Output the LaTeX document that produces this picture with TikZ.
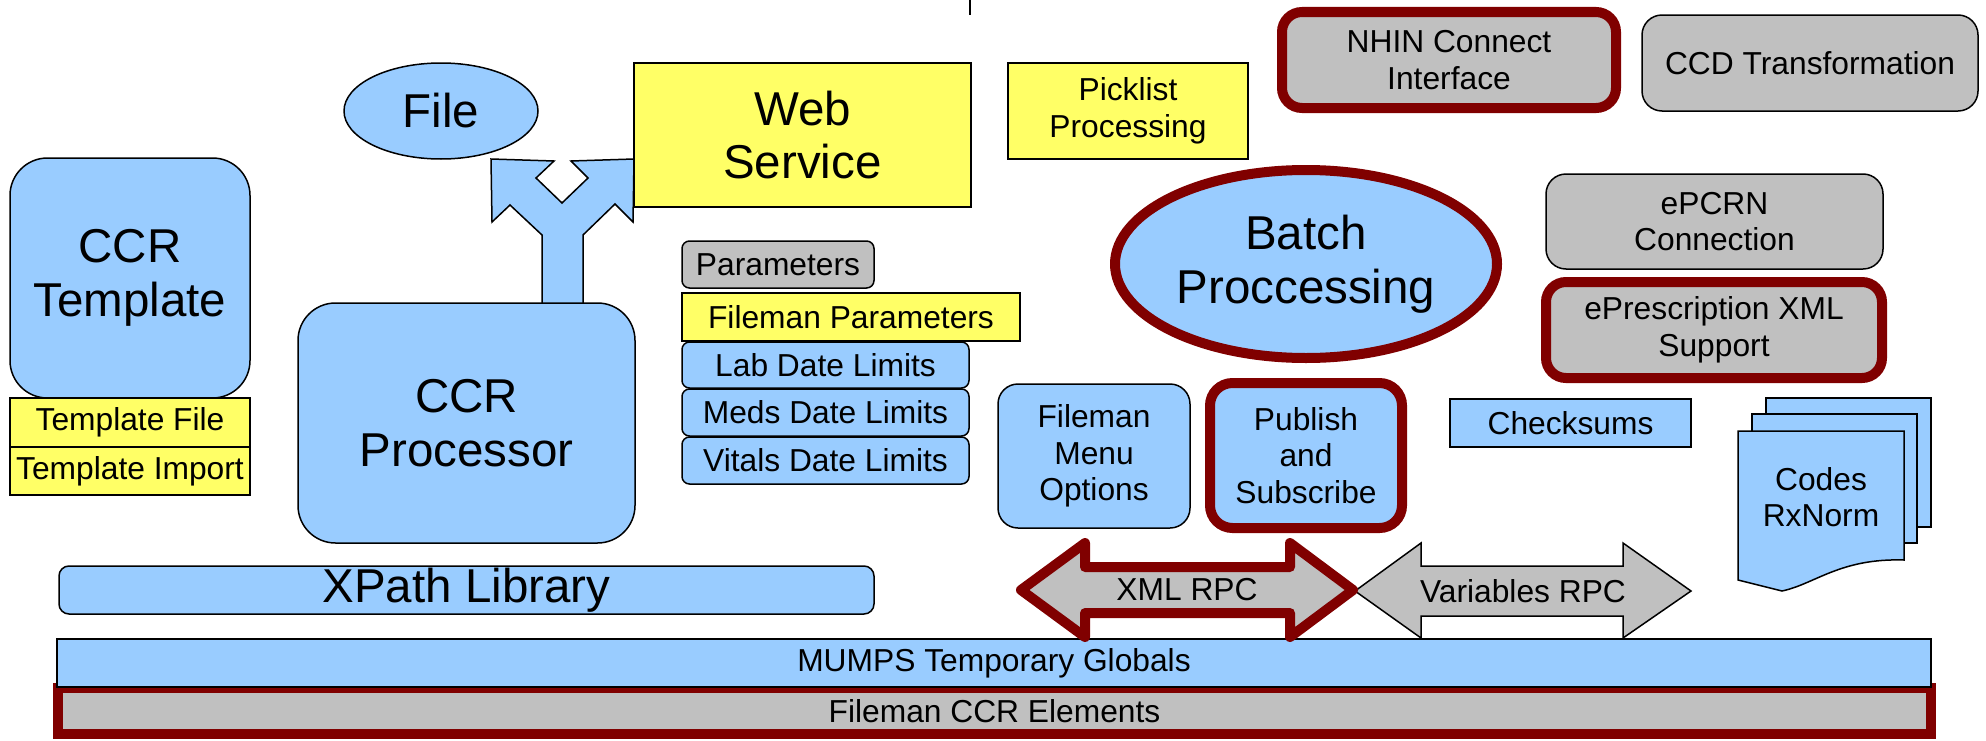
\documentclass[tikz,border=0pt]{standalone}
\usepackage{fontspec}
\setmainfont{Liberation Sans}
\usetikzlibrary{fit,shapes.geometric}
\definecolor{cBlue}{HTML}{99CCFF}
\definecolor{cYellow}{HTML}{FFFF66}
\definecolor{cGray}{HTML}{C0C0C0}
\definecolor{cRed}{HTML}{800000}
\newcommand\fsmall{\fontsize{12.7}{14.6}\selectfont}
\newcommand\fbig{\fontsize{19}{21.5}\selectfont}
\begin{document}
\begin{tikzpicture}[x=0.4pt,y=-0.4pt,
  shp/.style={draw=black, line width=0.6pt},
  box/.style={shp, inner sep=0pt, outer sep=0pt},
  bluebox/.style={box, fill=cBlue},
  yelbox/.style={box, fill=cYellow},
  graybox/.style={box, fill=cGray},
  redrim/.style={draw=cRed, line width=4pt},
  lbl/.style={font=\fsmall, align=center, inner sep=0pt},
  biglbl/.style={font=\fbig, align=center, inner sep=0pt}
]
\useasboundingbox (0,0) rectangle (1986,740);

% bottom layers
\node[graybox, redrim, fit={(58,688) (1931,734)}] (fce) {};
\node[lbl] (fcet) at (fce.center) {Fileman CCR Elements};
\node[bluebox, fit={(57,639) (1931,687)}] (mumps) {};
\node[lbl] (mumpst) at (mumps.center) {MUMPS Temporary Globals};
\node[bluebox, rounded corners=4pt, fit={(59,566) (874,614)}] (xpath) {};
\node[biglbl] (xpatht) at (xpath.center) {XPath Library};

% top row
\draw[shp] (970,0) -- (970,15);
\node[bluebox, ellipse, minimum width=194*0.4pt, minimum height=96*0.4pt, inner sep=0pt, font=\fbig] (file) at (441,111) {File};
\node[yelbox, fit={(634,63) (971,207)}] (web) {};
\node[biglbl] (webt) at (web.center) {Web\\Service};
\node[yelbox, fit={(1008,63) (1248,159)}] (pick) {};
\node[lbl] (pickt) at (pick.center) {Picklist\\Processing};
\node[graybox, redrim, rounded corners=8pt, fit={(1282,12) (1616,108)}] (nhin) {};
\node[lbl] (nhint) at (nhin.center) {NHIN Connect\\Interface};
\node[graybox, rounded corners=8pt, fit={(1642,15) (1978,111)}] (ccd) {};
\node[lbl] (ccdt) at (ccd.center) {CCD Transformation};

% left column
\node[bluebox, rounded corners=15pt, fit={(10,158) (250,398)}] (tmpl) {};
\node[biglbl] (tmplt) at (tmpl.center) {CCR\\Template};
\node[yelbox, fit={(10,398) (250,447)}] (tfile) {};
\node[lbl] (tfilet) at (tfile.center) {Template File};
\node[yelbox, fit={(10,447) (250,495)}] (timport) {};
\node[lbl] (timportt) at (timport.center) {Template Import};

% fork arrow
\draw[shp, fill=cBlue] (542,303) -- (542,235) -- (510,205) -- (492,222) -- (491,159)
  -- (554,161) -- (536,178) -- (562,203) -- (588,178) -- (571,161) -- (634,159)
  -- (633,222) -- (615,204) -- (583,235) -- (583,303);
\node[bluebox, rounded corners=15pt, fit={(298,303) (635,543)}] (proc) {};
\node[biglbl] (proct) at (proc.center) {CCR\\Processor};

% parameters
\node[graybox, rounded corners=3pt, fit={(682,241) (874,288)}] (params) {};
\node[lbl] (paramst) at (params.center) {Parameters};
\node[yelbox, fit={(682,293) (1020,341)}] (fparams) {};
\node[lbl] (fparamst) at (fparams.center) {Fileman Parameters};
\node[bluebox, rounded corners=3pt, fit={(682,342) (969,388)}] (lab) {};
\node[lbl] (labt) at (lab.center) {Lab Date Limits};
\node[bluebox, rounded corners=3pt, fit={(682,389) (969,436)}] (meds) {};
\node[lbl] (medst) at (meds.center) {Meds Date Limits};
\node[bluebox, rounded corners=3pt, fit={(682,437) (969,484)}] (vitals) {};
\node[lbl] (vitalst) at (vitals.center) {Vitals Date Limits};

% right part
\node[bluebox, ellipse, redrim, minimum width=382*0.4pt, minimum height=188*0.4pt, inner sep=0pt, align=center, font=\fbig] (batch) at (1306,264) {Batch\\Proccessing};
\node[graybox, rounded corners=8pt, fit={(1546,174) (1883,269)}] (epcrn) {};
\node[lbl] (epcrnt) at (epcrn.center) {ePCRN\\Connection};
\node[graybox, redrim, rounded corners=8pt, fit={(1546,282) (1882,378)}] (erx) {};
\node[lbl] (erxt) at (erx.center) {ePrescription XML\\Support};
\node[bluebox, rounded corners=8pt, fit={(998,384) (1190,528)}] (fmenu) {};
\node[lbl] (fmenut) at (fmenu.center) {Fileman\\Menu\\Options};
\node[bluebox, redrim, rounded corners=9pt, fit={(1210,383) (1402,528)}] (pubsub) {};
\node[lbl] (pubsubt) at (pubsub.center) {Publish\\and\\Subscribe};
\node[bluebox, fit={(1450,399) (1691,447)}] (chk) {};
\node[lbl] (chkt) at (chk.center) {Checksums};

% multi-document
\draw[shp, fill=cBlue] (1766,398) rectangle (1931,527);
\draw[shp, fill=cBlue] (1752,414) rectangle (1917,543);
\draw[shp, fill=cBlue] (1738,431) -- (1904,431) -- (1904,560)
  .. controls (1840,558) and (1815,584) .. (1782,591) -- (1738,580) -- cycle;
\node[lbl] (codes) at (1821,497) {Codes\\RxNorm};

% double arrows
\draw[shp, fill=cGray] (1355,591) -- (1421,543) -- (1421,566) -- (1623,566) -- (1623,543)
  -- (1691,591) -- (1623,638) -- (1623,616) -- (1421,616) -- (1421,638) -- cycle;
\node[lbl] (varrpc) at (1523,591) {Variables RPC};
\draw[redrim, fill=cGray, line join=round] (1021,590) -- (1085,543) -- (1085,567) -- (1290,567) -- (1290,543)
  -- (1353,590) -- (1290,637) -- (1290,613) -- (1085,613) -- (1085,637) -- cycle;
\node[lbl] (xmlrpc) at (1187,590) {XML RPC};
\end{tikzpicture}
\end{document}
